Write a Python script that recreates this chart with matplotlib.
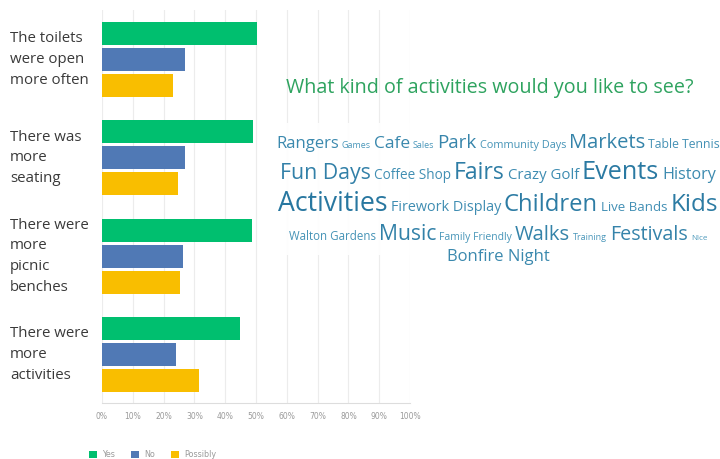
import matplotlib
matplotlib.use("Agg")
import matplotlib.pyplot as plt
import matplotlib.transforms as mtrans
from matplotlib.patches import Patch, Rectangle
from matplotlib.colors import LinearSegmentedColormap, Normalize

# survey question results (% of respondents)
CATS = ["The toilets\nwere open\nmore often",
        "There was\nmore\nseating",
        "There were\nmore\npicnic\nbenches",
        "There were\nmore\nactivities"]
SERIES = ["Yes", "No", "Possibly"]
YES = [50.3, 49.0, 48.8, 44.8]
NO = [27.0, 27.0, 26.2, 24.0]
POSSIBLY = [23.0, 24.6, 25.4, 31.5]
TICKS = [0, 10, 20, 30, 40, 50, 60, 70, 80, 90, 100]
COLORS = ["#00bf6f", "#5079b5", "#f9be00"]

# word cloud: words per row and their weights (font size)
TITLE = "What kind of activities would you like to see?"
WORDS = [
    ["Rangers", "Games", "Cafe", "Sales", "Park", "Community Days", "Markets", "Table Tennis"],
    ["Fun Days", "Coffee Shop", "Fairs", "Crazy Golf", "Events", "History"],
    ["Activities", "Firework Display", "Children", "Live Bands", "Kids"],
    ["Walton Gardens", "Music", "Family Friendly", "Walks", "Training", "Festivals", "Nice"],
    ["Bonfire Night"],
]
WEIGHTS = [
    [12.0, 6.5, 12.5, 6.5, 13.5, 7.8, 14.5, 8.8],
    [15.3, 9.8, 16.6, 10.8, 18.2, 11.6],
    [19.2, 10.4, 17.2, 9.5, 17.5],
    [8.3, 15.2, 7.5, 14.5, 6.5, 14.2, 5.8],
    [12.0],
]

W, H = 720, 459
fig = plt.figure(figsize=(W / 100, H / 100), dpi=100)
ax = fig.add_axes([102 / W, 56 / H, 308 / W, 393 / H])

off = 0.264
bh = 0.234
for k, (vals, col) in enumerate(zip([YES, NO, POSSIBLY], COLORS)):
    ys = [i + (k - 1) * off for i in range(len(CATS))]
    ax.barh(ys, vals, height=bh, color=col, zorder=3)

ax.set_xlim(0, 100)
ax.set_ylim(3.493, -0.504)
ax.set_xticks(TICKS)
ax.set_xticklabels([f"{t}%" for t in TICKS], fontsize=5.5, color="#9a9a9a")
ax.tick_params(axis="x", length=0, pad=6.5)
ax.set_yticks([])
ax.grid(True, axis="x", color="#ececec", lw=0.8, zorder=0)
for s in ["top", "right", "left"]:
    ax.spines[s].set_visible(False)
ax.spines["bottom"].set_color("#dddddd")

tr = mtrans.blended_transform_factory(fig.transFigure, ax.transData)
for i, lab in enumerate(CATS):
    ax.text(10 / W, i, lab, transform=tr, ha="left", va="center", fontsize=10.8,
            family="Open Sans", color="#3a3a3a", linespacing=1.52)

fig.legend(handles=[Patch(facecolor=c, label=s) for s, c in zip(SERIES, COLORS)],
           loc="lower left", bbox_to_anchor=(82 / W, -0.016), ncol=3, frameon=False,
           fontsize=5.8, labelcolor="#9a9a9a", handlelength=1.0, handleheight=1.0,
           columnspacing=2.0, handletextpad=0.6)

# white box of the word cloud image, sitting over the grid
fig.patches.append(Rectangle((275 / W, 1 - 255 / H), 445 / W, 132 / H,
                             transform=fig.transFigure, facecolor="white",
                             alpha=0.9, edgecolor="none", zorder=1))

# title + word cloud
fig.text(490 / W, 1 - 88 / H, TITLE, ha="center", va="center", fontsize=14.2,
         family="Open Sans", color="#2ea35f", zorder=2)

cmap = LinearSegmentedColormap.from_list("wc", ["#4e9bbd", "#2877a0"])
norm = Normalize(5, 19)
baselines = [148, 179, 211, 240, 261]
center = 498
gap = 3
r = fig.canvas.get_renderer()
for row, sizes, yb in zip(WORDS, WEIGHTS, baselines):
    ts = []
    for w, s in zip(row, sizes):
        t = fig.text(0, 1 - yb / H, w, fontsize=s, family="Open Sans",
                     color=cmap(norm(s)), ha="left", va="baseline", zorder=2)
        ts.append(t)
    widths = [t.get_window_extent(r).width for t in ts]
    x = center - (sum(widths) + gap * (len(ts) - 1)) / 2
    for t, wd in zip(ts, widths):
        t.set_x(x / W)
        x += wd + gap

fig.savefig("out.png", dpi=100)
